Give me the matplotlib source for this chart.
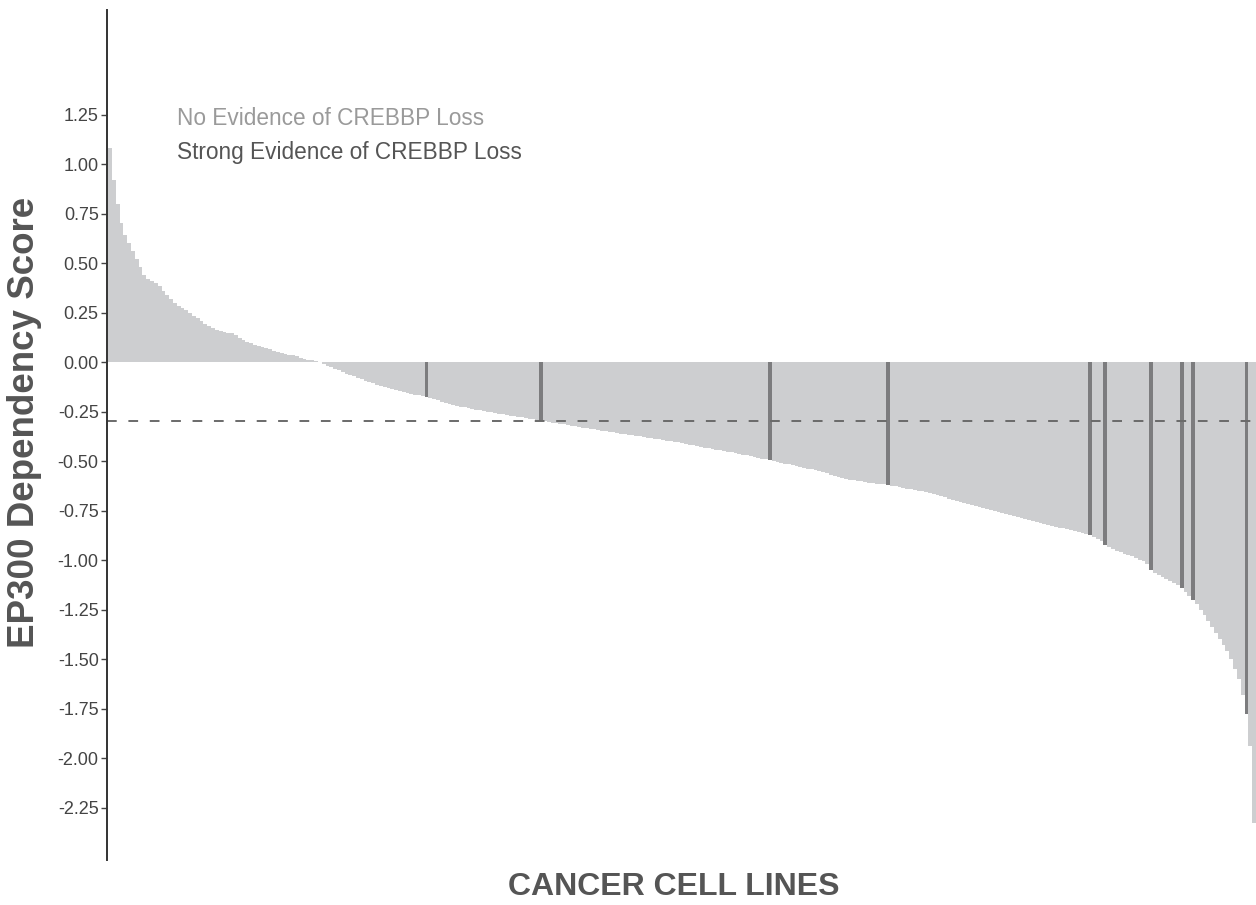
import numpy as np
import matplotlib
matplotlib.use("Agg")
from matplotlib import pyplot as plt

# EP300 dependency score per cell line, sorted high -> low
scores = [
    1.08, 0.92, 0.80, 0.70, 0.64, 0.60, 0.56, 0.52, 0.48, 0.44,
    0.42, 0.41, 0.40, 0.385, 0.36, 0.34, 0.32, 0.30, 0.285, 0.275,
    0.265, 0.25, 0.235, 0.22, 0.205, 0.19, 0.18, 0.17, 0.16, 0.155,
    0.15, 0.148, 0.145, 0.135, 0.12, 0.11, 0.10, 0.095, 0.088, 0.082,
    0.076, 0.07, 0.064, 0.058, 0.052, 0.047, 0.042, 0.038, 0.034, 0.028,
    0.022, 0.017, 0.012, 0.008, 0.004, -0.002, -0.01, -0.018, -0.026, -0.034,
    -0.042, -0.05, -0.058, -0.066, -0.073, -0.08, -0.087, -0.094, -0.10, -0.107,
    -0.114, -0.12, -0.126, -0.132, -0.137, -0.142, -0.147, -0.152, -0.157, -0.161,
    -0.165, -0.169, -0.173, -0.177, -0.182, -0.188, -0.194, -0.20, -0.206, -0.211,
    -0.216, -0.221, -0.225, -0.229, -0.233, -0.237, -0.241, -0.244, -0.247, -0.25,
    -0.253, -0.256, -0.26, -0.264, -0.268, -0.271, -0.274, -0.277, -0.28, -0.284,
    -0.287, -0.29, -0.293, -0.296, -0.30, -0.303, -0.306, -0.309, -0.312, -0.315,
    -0.318, -0.321, -0.324, -0.327, -0.331, -0.334, -0.337, -0.34, -0.343, -0.346,
    -0.349, -0.352, -0.355, -0.358, -0.361, -0.364, -0.367, -0.37, -0.373, -0.376,
    -0.379, -0.382, -0.385, -0.388, -0.391, -0.394, -0.397, -0.40, -0.403, -0.406,
    -0.41, -0.414, -0.418, -0.421, -0.424, -0.428, -0.432, -0.435, -0.438, -0.442,
    -0.446, -0.449, -0.452, -0.456, -0.46, -0.464, -0.468, -0.472, -0.476, -0.48,
    -0.484, -0.488, -0.492, -0.496, -0.50, -0.505, -0.509, -0.513, -0.517, -0.521,
    -0.526, -0.53, -0.534, -0.538, -0.542, -0.547, -0.552, -0.557, -0.562, -0.568,
    -0.574, -0.58, -0.585, -0.59, -0.594, -0.597, -0.60, -0.603, -0.606, -0.609,
    -0.612, -0.614, -0.616, -0.618, -0.62, -0.624, -0.628, -0.631, -0.635, -0.639,
    -0.643, -0.646, -0.65, -0.653, -0.657, -0.66, -0.666, -0.672, -0.678, -0.684,
    -0.69, -0.695, -0.70, -0.705, -0.71, -0.715, -0.72, -0.726, -0.731, -0.736,
    -0.742, -0.747, -0.752, -0.758, -0.763, -0.768, -0.774, -0.779, -0.784, -0.789,
    -0.794, -0.798, -0.803, -0.808, -0.813, -0.818, -0.823, -0.828, -0.832, -0.836,
    -0.84, -0.845, -0.85, -0.855, -0.86, -0.865, -0.87, -0.875, -0.885, -0.895,
    -0.905, -0.925, -0.935, -0.945, -0.953, -0.96, -0.967, -0.975, -0.982, -0.99,
    -0.998, -1.007, -1.02, -1.05, -1.065, -1.075, -1.085, -1.095, -1.105, -1.115,
    -1.125, -1.14, -1.16, -1.18, -1.20, -1.22, -1.25, -1.28, -1.31, -1.34,
    -1.37, -1.40, -1.43, -1.46, -1.50, -1.55, -1.60, -1.68, -1.78, -1.94,
    -2.33,
]

# cell lines with strong evidence of CREBBP loss (positions in the sorted list)
loss_idx = [83, 113, 173, 204, 257, 261, 273, 281, 284, 298]

threshold = -0.3
yticks = [-2.25, -2.0, -1.75, -1.5, -1.25, -1.0, -0.75, -0.5, -0.25,
          0.0, 0.25, 0.5, 0.75, 1.0, 1.25]

plt.rcParams['font.family'] = ['Liberation Sans', 'DejaVu Sans']
plt.rcParams['axes.unicode_minus'] = False

light = "#cdced0"
dark = "#7c7c7e"
text_col = "#444444"

fig = plt.figure(figsize=(12.56, 9.05), dpi=100)
ax = fig.add_axes([107 / 1256, 45 / 905, 1 - 107 / 1256, 850 / 905])

x = np.arange(len(scores))
vals = np.array(scores)
colors = [dark if i in loss_idx else light for i in x]
ax.bar(x, vals, width=1.0, color=colors, linewidth=0)

ax.axhline(threshold, color="#6a6a6a", linewidth=1.4, dashes=(5, 6))

ax.set_xlim(-0.8, len(scores) - 0.5)
ax.set_ylim(-2.515, 1.778)
ax.set_yticks(yticks)
ax.set_yticklabels([f"{t:.2f}" for t in yticks])
ax.set_xticks([])

for s in ["top", "right", "bottom"]:
    ax.spines[s].set_visible(False)
ax.spines["left"].set_color("#333333")
ax.spines["left"].set_linewidth(1.4)
ax.tick_params(axis="y", length=4, width=1, color="#444444", pad=2,
               labelsize=13, labelcolor=text_col)

fig.text(25 / 1256, 1 - 422 / 905, "EP300 Dependency Score", rotation=90,
         ha="center", va="center", fontsize=26.5, fontweight="bold", color="#555555")
fig.text(674 / 1256, 1 - 887 / 905, "CANCER CELL LINES",
         ha="center", va="center", fontsize=23, fontweight="bold", color="#555555")

# text-only legend
fig.text(177 / 1256, 1 - 118 / 905, "No Evidence of CREBBP Loss",
         ha="left", va="center", fontsize=16.3, color="#9a9a9a")
fig.text(177 / 1256, 1 - 152 / 905, "Strong Evidence of CREBBP Loss",
         ha="left", va="center", fontsize=16.3, color="#555555")

fig.savefig("out.png", dpi=100)
